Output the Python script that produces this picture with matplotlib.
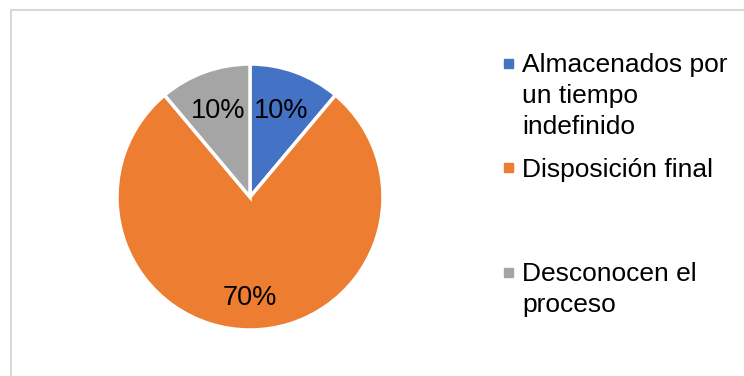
import matplotlib
matplotlib.use("Agg")
import numpy as np
import matplotlib.pyplot as plt
from matplotlib.lines import Line2D
from matplotlib.patches import Rectangle

plt.rcParams['font.family'] = ['Liberation Sans', 'DejaVu Sans']

W, H = 744, 376
categories = ["Almacenados por\nun tiempo\nindefinido", "Disposición final", "Desconocen el\nproceso"]
values = [10, 70, 10]
value_labels = ["10%", "70%", "10%"]
colors = ["#4472C4", "#ED7D31", "#A5A5A5"]

fig = plt.figure(figsize=(W / 100, H / 100), dpi=100)

# light chart border (only top/left visible in the picture)
fig.add_artist(Line2D([11 / W, 11 / W], [0, 1 - 10 / H], color="#D9D9D9", lw=1.5))
fig.add_artist(Line2D([11 / W, 1], [1 - 10 / H, 1 - 10 / H], color="#D9D9D9", lw=1.5))

cx, cy, r = 250, 197, 133
ax = fig.add_axes([(cx - r) / W, (H - cy - r) / H, 2 * r / W, 2 * r / H])
wedges, _ = ax.pie(values, colors=colors, startangle=90, counterclock=False,
                   wedgeprops=dict(edgecolor="white", linewidth=2.5))
ax.set_xlim(-1, 1)
ax.set_ylim(-1, 1)
ax.axis("off")

dists = [0.69, 0.76, 0.69]
for w, lab, d in zip(wedges, value_labels, dists):
    ang = np.deg2rad((w.theta1 + w.theta2) / 2)
    ax.text(d * np.cos(ang), d * np.sin(ang), lab, ha="center", va="center",
            fontsize=19.5, color="black")

# legend drawn by hand to match Excel spacing
marker_y = [63, 168, 272]
line_h = 31
for lab, col, my in zip(categories, colors, marker_y):
    fig.add_artist(Rectangle((504 / W, 1 - (my + 4.5) / H), 9 / W, 9 / H,
                             color=col, transform=fig.transFigure))
    for i, line in enumerate(lab.split("\n")):
        base = my + 9 + i * line_h
        fig.text(522 / W, 1 - base / H, line, fontsize=19, va="baseline",
                 ha="left", color="black")

fig.savefig("out.png", dpi=100)
